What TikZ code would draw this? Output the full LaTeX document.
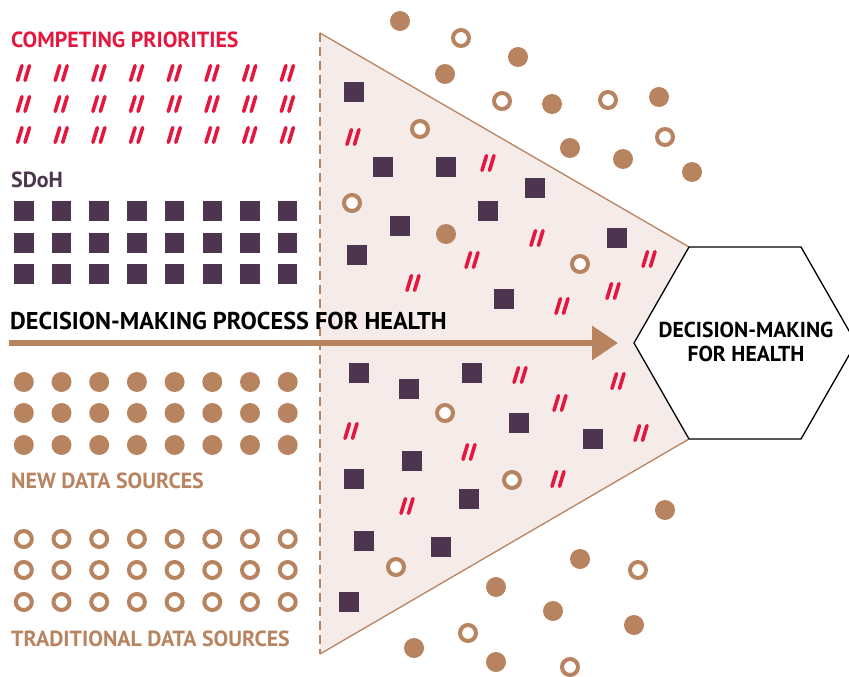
\documentclass[tikz,border=0pt]{standalone}
\usepackage{fontspec}
\setmainfont{PT Sans}
\usetikzlibrary{arrows.meta}
\definecolor{cred}{HTML}{E4173E}
\definecolor{cpurp}{HTML}{4D3550}
\definecolor{cbrown}{HTML}{B8835F}
\definecolor{cfill}{HTML}{F5ECEA}
\tikzset{
  sqr/.style={fill=cpurp, minimum size=19.5pt, inner sep=0pt, outer sep=0pt},
  dotf/.style={circle, fill=cbrown, minimum size=20pt, inner sep=0pt},
  ringo/.style={circle, draw=cbrown, line width=4pt, fill=white, minimum size=16pt, inner sep=0pt},
  slashline/.style={draw=cred, line width=3.6pt, line cap=round},
  dslash/.pic={
    \draw[slashline] (-6,7.4) -- (-1.5,-7.4);
    \draw[slashline] (1.5,7.4) -- (6,-7.4);
  },
  lbl/.style={anchor=base west, inner sep=0pt, font=\bfseries\fontsize{21.9}{24}\selectfont},
}
\begin{document}
\begin{tikzpicture}[x=1pt, y=-1pt]
\useasboundingbox (0,0) rectangle (849,677);
% funnel
\coordinate (tA) at (320,33);
\coordinate (tB) at (689,247);
\coordinate (tC) at (689,439);
\coordinate (tD) at (320,654);
\fill[cfill] (tA) -- (tB) -- (tC) -- (tD) -- cycle;
\draw[cbrown, line width=1.3pt] (tA) -- (tB);
\draw[cbrown, line width=1.3pt] (tD) -- (tC);
\draw[cbrown, line width=2pt, dash pattern=on 9pt off 5pt] (tA) -- (tD);
% hexagon
\draw[black, line width=1.3pt, fill=white] (634,343) -- (689,247) -- (801,247) -- (856,343) -- (801,439) -- (689,439) -- cycle;
\node[font=\bfseries\fontsize{21.6}{23.5}\selectfont, align=center, inner sep=0pt] (hex) at (746,342) {DECISION-MAKING\\FOR HEALTH};
% left grids
\foreach \i in {0,...,7} {
  \foreach \r/\y in {1/73,2/104,3/135} {
    \pic (cp-\i-\r) at ({23.5+37.7*\i},\y) {dslash};
  }
  \foreach \r/\y in {1/211,2/243,3/274} {
    \node[sqr] (sd-\i-\r) at ({23.8+37.7*\i},\y) {};
  }
  \foreach \r/\y in {1/382,2/413,3/445} {
    \node[dotf] (nd-\i-\r) at ({23.8+37.7*\i},\y) {};
  }
  \foreach \r/\y in {1/539,2/570,3/602} {
    \node[ringo] (td-\i-\r) at ({23.8+37.7*\i},\y) {};
  }
}
% labels
\node[lbl, text=cred] (lcp) at (11,48) {COMPETING PRIORITIES};
\node[lbl, text=cpurp] (lsd) at (11,187) {SDoH};
\node[lbl, text=cbrown] (lnd) at (11,488) {NEW DATA SOURCES};
\node[lbl, text=cbrown] (ltd) at (11,646) {TRADITIONAL DATA SOURCES};
% arrow
\coordinate (arS) at (9,343);
\coordinate (arE) at (618,343);
\draw[cbrown, line width=6.5pt, -{Triangle[length=26pt, width=33pt]}] (arS) -- (arE);
\node[anchor=base west, inner sep=0pt, font=\bfseries\fontsize{24.3}{26}\selectfont] (lproc) at (10,329) {DECISION-MAKING PROCESS FOR HEALTH};
% scattered squares
\foreach \x/\y [count=\k] in {354/92,383/167,446/167,535/188,488/211,400/226,617/238,357/255,504/299,
  359/373,472/373,409/389,519/423,593/439,412/461,354/479,469/499,364/541,441/547,349/602} {
  \node[sqr] (ss-\k) at (\x,\y) {};
}
% scattered slashes
\foreach \x/\y [count=\k] in {353/137,488/163,537/238,472/260,649/259,413/283,613/291,562/306,
  520/375,618/381,560/403,351/431,641/433,469/452,558/479,407/506} {
  \pic (sl-\k) at (\x,\y) {dslash};
}
% scattered filled dots
\foreach \x/\y [count=\k] in {400/21,518/57,445/74,552/104,659/97,570/148,623/159,692/172,446/234,
  665/510,580/559,496/587,553/611,634/625,414/648,496/662} {
  \node[dotf] (sf-\k) at (\x,\y) {};
}
% scattered rings
\foreach \x/\y [count=\k] in {461/38,502/101,608/100,665/137,420/129,352/203,580/264,445/413,512/480,
  396/567,638/570,468/633,570/667} {
  \node[ringo] (sr-\k) at (\x,\y) {};
}
\end{tikzpicture}
\end{document}
